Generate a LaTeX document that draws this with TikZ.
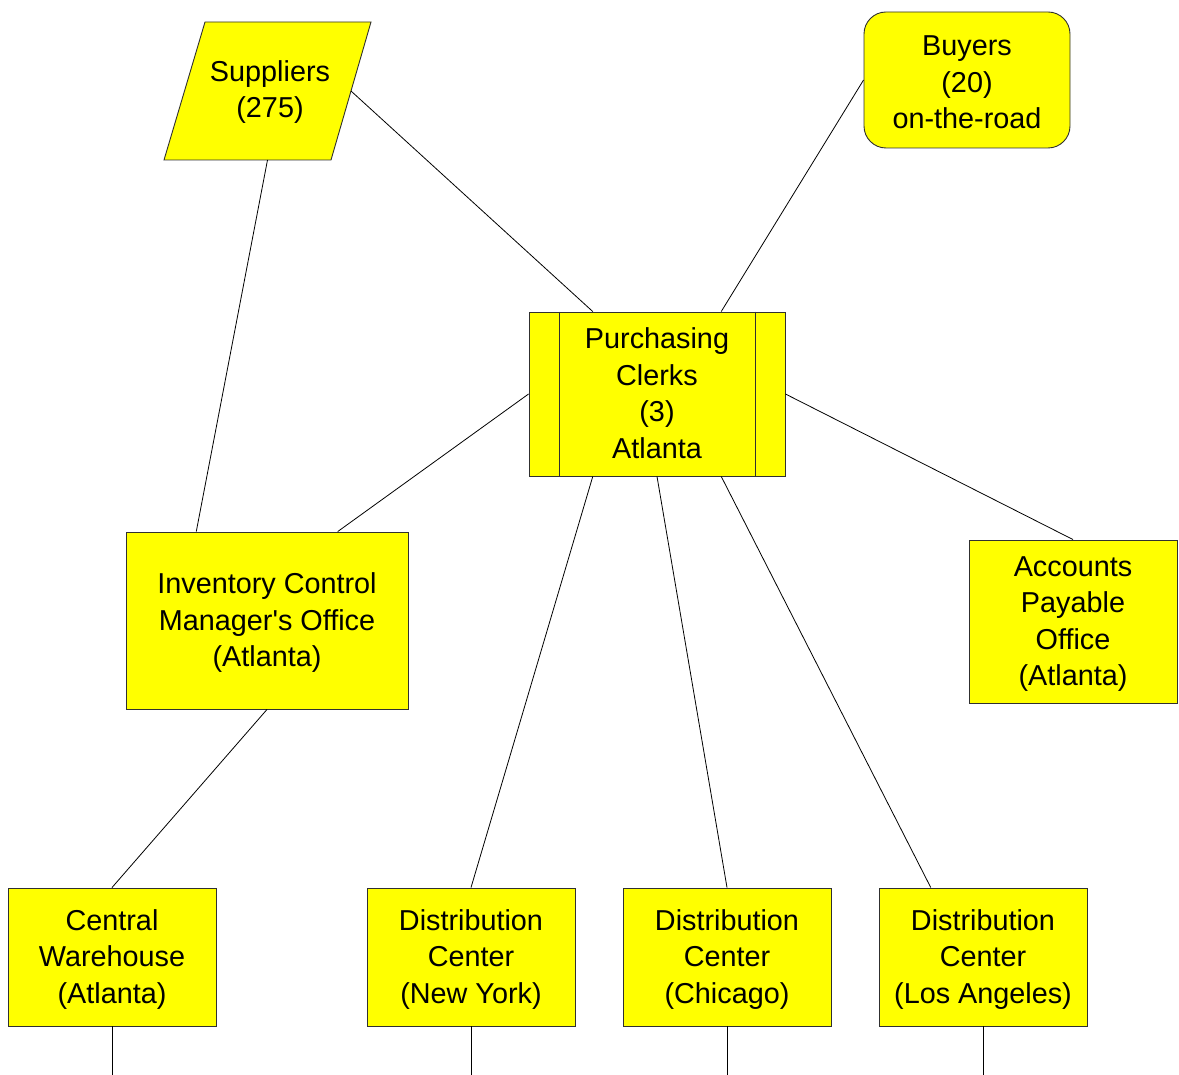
\documentclass[tikz,border=0pt]{standalone}
\usepackage{fontspec}
\setmainfont{Liberation Sans}[Ligatures=TeXOff]
\usetikzlibrary{calc}
\definecolor{boxfill}{HTML}{FFFF00}
\definecolor{boxline}{HTML}{303030}
% struts fixing the height of the first line and the depth of the last one
\newcommand\topstr{\rule{0pt}{25pt}}
\newcommand\botstr{\rule[-6pt]{0pt}{6pt}}
\begin{document}
\begin{tikzpicture}[x=1pt,y=-1pt,
  lbl/.style={font=\fontsize{28.8}{36.5}\selectfont, align=center, inner sep=0pt},
  unit/.style={lbl, draw=boxline, fill=boxfill, line width=0.9pt},
  link/.style={draw=black, line width=0.8pt}]
\useasboundingbox (0,0) rectangle (1179,1075);

% suppliers: parallelogram drawn as a path, label on top
\filldraw[fill=boxfill, draw=boxline, line width=0.9pt]
  (205,22) -- (371,22) -- (331,160) -- (164,160) -- cycle;
\node[lbl] (sup) at (270,90) {\topstr Suppliers\\(275)};
\coordinate (supE) at (351,91);
\coordinate (supS) at (267.5,160);

% buyers
\node[unit, rounded corners=22pt, minimum width=206pt, minimum height=136pt] (buy) at (967,80) {\topstr Buyers\\(20)\\on-the-road};

% purchasing clerks, a box with two side bands
\node[unit, minimum width=256pt, minimum height=164pt] (pc) at (657,394) {\topstr Purchasing\\Clerks\\(3)\\Atlanta\botstr};
\draw[boxline, line width=0.9pt] ($(pc.north west)+(31,0)$) -- ($(pc.south west)+(31,0)$);
\draw[boxline, line width=0.9pt] ($(pc.north east)+(-30,0)$) -- ($(pc.south east)+(-30,0)$);

% offices
\node[unit, minimum width=282pt, minimum height=177pt] (inv) at (267,620.5) {\topstr Inventory Control\\Manager's Office\\(Atlanta)};
\node[unit, minimum width=208pt, minimum height=163pt] (ap) at (1073,621.5) {\topstr Accounts\\Payable\\Office\\(Atlanta)};

% warehouse and distribution centres
\node[unit, minimum width=208pt, minimum height=138pt] (cw) at (112,957) {\topstr Central\\Warehouse\\(Atlanta)};
\node[unit, minimum width=208pt, minimum height=138pt] (ny) at (471,957) {\topstr Distribution\\Center\\(New York)};
\node[unit, minimum width=208pt, minimum height=138pt] (chi) at (727,957) {\topstr Distribution\\Center\\(Chicago)};
\node[unit, minimum width=208pt, minimum height=138pt] (la) at (983,957) {\topstr Distribution\\Center\\(Los Angeles)};

% free ends of the outgoing lines
\coordinate (cwOut) at (112,1075);
\coordinate (nyOut) at (471,1075);
\coordinate (chiOut) at (727,1075);
\coordinate (laOut) at (983,1075);

% connectors
\draw[link] (supE) -- ($(pc.north west)!0.25!(pc.north east)$);
\draw[link] (supS) -- ($(inv.north west)!0.25!(inv.north east)$);
\draw[link] (buy.west) -- ($(pc.north west)!0.75!(pc.north east)$);
\draw[link] (pc.west) -- ($(inv.north west)!0.75!(inv.north east)$);
\draw[link] (pc.east) -- (ap.north);
\draw[link] ($(pc.south west)!0.25!(pc.south east)$) -- (ny.north);
\draw[link] (pc.south) -- (chi.north);
\draw[link] ($(pc.south west)!0.75!(pc.south east)$) -- ($(la.north west)!0.25!(la.north east)$);
\draw[link] (inv.south) -- (cw.north);
\draw[link] (cw.south) -- (cwOut);
\draw[link] (ny.south) -- (nyOut);
\draw[link] (chi.south) -- (chiOut);
\draw[link] (la.south) -- (laOut);
\end{tikzpicture}
\end{document}
